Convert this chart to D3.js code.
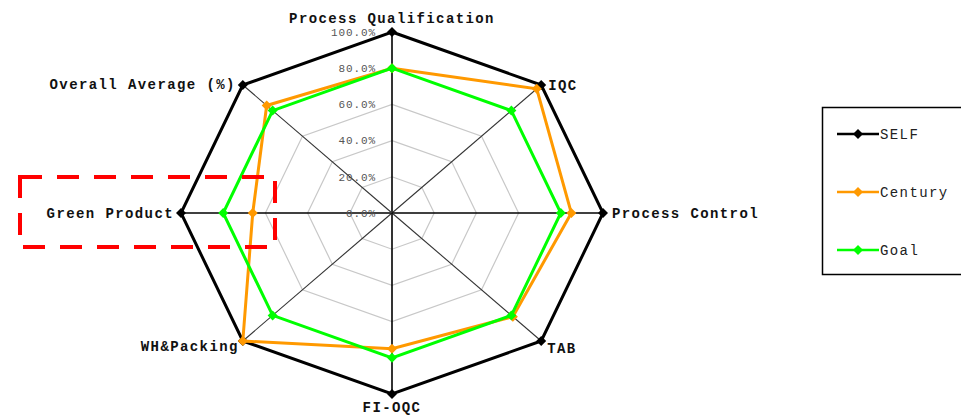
<!DOCTYPE html>
<html>
<head>
<meta charset="utf-8">
<script src="https://cdn.jsdelivr.net/npm/d3@7"></script>
<style>
  body { margin: 0; background: #fff; }
  svg { display: block; }
  .lbl { font-family: "Liberation Mono", "DejaVu Sans Mono", monospace; font-weight: bold; font-size: 14px; letter-spacing: 1.4px; fill: #111; }
  .tick { font-family: "Liberation Mono", monospace; font-size: 11px; letter-spacing: 0.9px; fill: #555; }
  .leg { font-family: "Liberation Mono", monospace; font-size: 14px; letter-spacing: 1.4px; fill: #222; }
</style>
</head>
<body>
<script>
// categories, clockwise from the top
var categories = ["Process Qualification", "IQC", "Process Control", "TAB",
                  "FI-OQC", "WH&Packing", "Green Product", "Overall Average (%)"];
var selfValues = [100, 100, 100, 100, 100, 100, 100, 100];
var centuryValues = [80, 97, 85, 81, 75, 100, 66, 84];
var goalValues = [80, 80, 80, 80, 80, 80, 80, 80];
var tickValues = [0, 20, 40, 60, 80, 100];
var seriesNames = ["SELF", "Century", "Goal"];
var seriesColors = ["#000000", "#ff9900", "#00ff00"];

var width = 961, height = 416;
var cx = 392, cy = 213, rx = 211, ry = 181;

var svg = d3.select("body").append("svg")
    .attr("width", width)
    .attr("height", height);

var r = d3.scaleLinear().domain([0, 100]).range([0, 1]);
var angle = d3.scalePoint().domain(d3.range(categories.length + 1)).range([0, 2 * Math.PI]);

function pt(i, v) {
  var a = angle(i);
  return [cx + rx * r(v) * Math.sin(a), cy - ry * r(v) * Math.cos(a)];
}

// grid polygons
var grid = svg.append("g");
tickValues.slice(1, -1).forEach(function (t) {
  grid.append("path")
    .attr("d", d3.line()(categories.map(function (c, i) { return pt(i, t); })) + "Z")
    .attr("fill", "none")
    .attr("stroke", "#c8c8c8")
    .attr("stroke-width", 1.2);
});

// spokes
grid.selectAll(".spoke")
  .data(categories)
  .enter().append("line")
  .attr("x1", function (d, i) { return pt(i, 0)[0]; })
  .attr("y1", function (d, i) { return pt(i, 0)[1]; })
  .attr("x2", function (d, i) { return pt(i, 100)[0]; })
  .attr("y2", function (d, i) { return pt(i, 100)[1]; })
  .attr("stroke", function (d, i) { return i % 2 ? "#333" : "#000"; })
  .attr("stroke-width", function (d, i) { return i % 2 ? 1.1 : 1.6; });

// tick labels along the top spoke
svg.selectAll(".tick")
  .data(tickValues)
  .enter().append("text")
  .attr("class", "tick")
  .attr("x", cx - 16)
  .attr("y", function (d) { return pt(0, d)[1]; })
  .attr("dy", "0.35em")
  .attr("text-anchor", "end")
  .text(function (d) { return d.toFixed(1) + "%"; });

// series
var series = [selfValues, centuryValues, goalValues];
var diamond = d3.symbol().type(d3.symbolDiamond2).size(64);

series.forEach(function (vals, s) {
  var g = svg.append("g");
  g.append("path")
    .attr("d", d3.line()(vals.map(function (v, i) { return pt(i, v); })) + "Z")
    .attr("fill", "none")
    .attr("stroke", seriesColors[s])
    .attr("stroke-width", 3)
    .attr("stroke-linejoin", "miter");
  g.selectAll("path.m")
    .data(vals)
    .enter().append("path")
    .attr("class", "m")
    .attr("d", diamond)
    .attr("transform", function (v, i) { var p = pt(i, v); return "translate(" + p[0] + "," + p[1] + ")"; })
    .attr("fill", seriesColors[s]);
});

// category labels
var labelOffsets = [
  {dx: 0, dy: -14, anchor: "middle"},
  {dx: 7, dy: 0, anchor: "start"},
  {dx: 9, dy: 0, anchor: "start"},
  {dx: 6, dy: 7, anchor: "start"},
  {dx: 0, dy: 13, anchor: "middle"},
  {dx: -4, dy: 5, anchor: "end"},
  {dx: -7, dy: 0, anchor: "end"},
  {dx: -7, dy: -1, anchor: "end"}
];
svg.selectAll(".lbl")
  .data(categories)
  .enter().append("text")
  .attr("class", "lbl")
  .attr("x", function (d, i) { return pt(i, 100)[0] + labelOffsets[i].dx; })
  .attr("y", function (d, i) { return pt(i, 100)[1] + labelOffsets[i].dy; })
  .attr("dy", "0.35em")
  .attr("text-anchor", function (d, i) { return labelOffsets[i].anchor; })
  .text(function (d) { return d; });

// legend
var legend = svg.append("g");
legend.append("rect")
  .attr("x", 822.5).attr("y", 107.5)
  .attr("width", 160).attr("height", 167)
  .attr("fill", "#fff")
  .attr("stroke", "#000")
  .attr("stroke-width", 1.5);
var ly = d3.scalePoint().domain(seriesNames).range([134, 250]);
seriesNames.forEach(function (n, s) {
  var y = ly(n);
  legend.append("line")
    .attr("x1", 837).attr("x2", 879).attr("y1", y).attr("y2", y)
    .attr("stroke", seriesColors[s]).attr("stroke-width", 2.5);
  legend.append("path")
    .attr("d", diamond)
    .attr("transform", "translate(858," + y + ")")
    .attr("fill", seriesColors[s]);
  legend.append("text")
    .attr("class", "leg")
    .attr("x", 880).attr("y", y).attr("dy", "0.35em")
    .text(n);
});

// red dashed highlight box
svg.append("rect")
  .attr("x", 20).attr("y", 177)
  .attr("width", 255).attr("height", 70)
  .attr("fill", "none")
  .attr("stroke", "#ff0000")
  .attr("stroke-width", 4)
  .attr("stroke-dasharray", "22,15");
</script>
</body>
</html>
